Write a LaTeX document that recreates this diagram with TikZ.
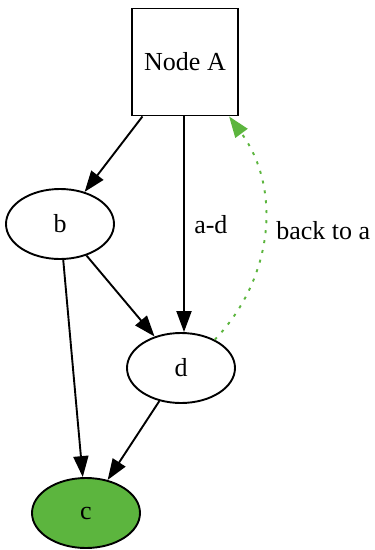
\documentclass[tikz,border=0pt]{standalone}
\usepackage{fontspec}
\setmainfont{Liberation Serif}
\usetikzlibrary{shapes.geometric,arrows.meta}
\definecolor{nodegreen}{HTML}{5CB53E}
\tikzset{
   boxnode/.style = { draw, line width=1.9pt, minimum width=106pt, minimum height=107pt, inner sep=0pt },
  ovalnode/.style = { draw, ellipse, line width=1.9pt, minimum width=108pt, minimum height=70pt, inner sep=0pt },
     arrow/.style = { line width=1.9pt, -{Triangle[length=21pt,width=15pt]} },
   backarc/.style = { arrow, color=nodegreen, dash pattern=on 3pt off 7pt },
}

\begin{document}
\begin{tikzpicture}[x=1pt, y=-1pt, font=\fontsize{26}{31}\selectfont]
  \useasboundingbox (0,0) rectangle (375,550);
  \node [boxnode]                 (A) at (185,62)  {Node A};
  \node [ovalnode]                (b) at (60,224)  {b};
  \node [ovalnode]                (d) at (181,368) {d};
  \node [ovalnode, fill=nodegreen] (c) at (86,513) {c};

  \draw [arrow] (A.-128) -- (b);
  \draw [arrow] (A.south -| 184,0) -- node [right=6pt] {a-d} (d.north -| 184,0);
  \draw [arrow] (b) -- (c);
  \draw [arrow] (b) -- (d);
  \draw [arrow] (d) -- (c);
  \draw [backarc] (d.40) to [bend right=40] node [right=8pt, text=black] {back to a} (A.-51);
\end{tikzpicture}
\end{document}
